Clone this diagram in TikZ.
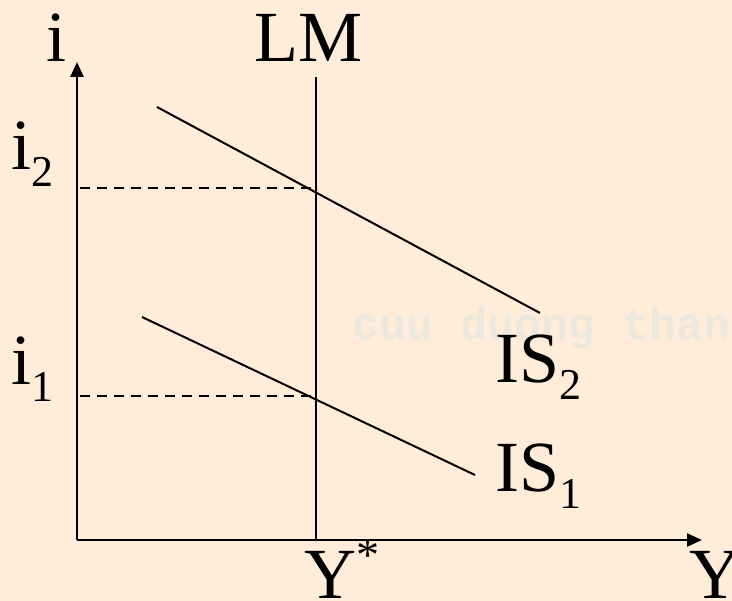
\documentclass[tikz,border=0pt]{standalone}
\usepackage{fontspec}
\setmainfont{Liberation Serif}
\newfontfamily\wmfont{Liberation Mono}
\usetikzlibrary{arrows.meta}
\definecolor{bgpeach}{RGB}{255,236,217}
\definecolor{wmcol}{RGB}{236,232,221}
\newcommand{\bigtxt}{\fontsize{72}{72}\selectfont}
\newcommand{\subtxt}[1]{\raisebox{-17pt}{\fontsize{44}{44}\selectfont #1}}
\begin{document}
\begin{tikzpicture}[x=1pt,y=-1pt,
  axis/.style={line width=2.6pt,-{Triangle[length=15pt,width=13pt]}},
  curve/.style={line width=2pt},
  guide/.style={line width=2pt,dash pattern=on 10pt off 7pt},
  lbl/.style={inner sep=0pt,anchor=base west,font=\bigtxt}]
\useasboundingbox[fill=bgpeach] (0,0) rectangle (732,601);
% watermark
\begin{scope}
\clip (0,0) rectangle (732,601);
\node[inner sep=0pt,anchor=base west,text=wmcol,font=\wmfont\bfseries\fontsize{45}{45}\selectfont] (wm) at (352,340) {cuu duong than cong . com};
\end{scope}
% coordinates
\coordinate (O) at (77,540);
\coordinate (ytop) at (77,62);
\coordinate (xend) at (702,540);
\coordinate (lmtop) at (316,77);
\coordinate (lmbot) at (316,540);
\coordinate (isTwoA) at (157,107);
\coordinate (isTwoB) at (540,313);
\coordinate (isOneA) at (142,317);
\coordinate (isOneB) at (475,475);
\coordinate (iTwoL) at (80,188);
\coordinate (iTwoR) at (316,188);
\coordinate (iOneL) at (80,396);
\coordinate (iOneR) at (316,396);
% guides
\draw[guide] (iTwoL) -- (iTwoR);
\draw[guide] (iOneL) -- (iOneR);
% curves
\draw[curve] (lmtop) -- (lmbot);
\draw[curve] (isTwoA) -- (isTwoB);
\draw[curve] (isOneA) -- (isOneB);
% axes
\draw[axis] (O) -- (ytop);
\draw[axis] (O) -- (xend);
% labels
\node[lbl] (li) at (46,62) {i};
\node[lbl] (llm) at (254,62) {LM};
\node[lbl] (litwo) at (11,170) {i\subtxt{2}};
\node[lbl] (lione) at (11,385) {i\subtxt{1}};
\node[lbl] (listwo) at (495,383) {IS\subtxt{2}};
\node[lbl] (lisone) at (495,492) {IS\subtxt{1}};
\node[lbl] (lystar) at (304,599) {Y\raisebox{28pt}{\fontsize{46}{46}\selectfont *}};
\node[lbl] (ly) at (689,599) {Y};
\end{tikzpicture}
\end{document}
